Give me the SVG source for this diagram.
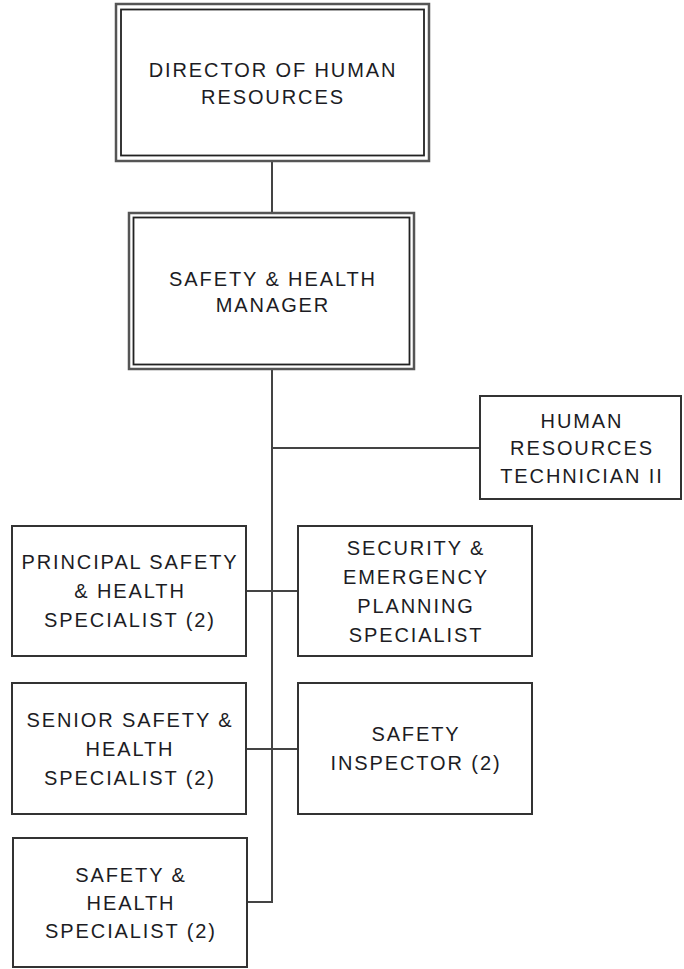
<svg xmlns="http://www.w3.org/2000/svg" width="684" height="969" viewBox="0 0 684 969">
<style>
.box{fill:#fff;stroke:#333;stroke-width:2}
.outer{fill:#fff;stroke:#555;stroke-width:2.5}
.inner{fill:none;stroke:#222;stroke-width:1.8}
.conn{fill:none;stroke:#444;stroke-width:2}
text{font-family:"Liberation Sans",Arial,sans-serif;font-size:20px;letter-spacing:1.9px;fill:#1c1c24;text-anchor:middle}
</style>
<rect width="684" height="969" fill="#fff"/>
<g id="connectors">
<line class="conn" x1="272" y1="161" x2="272" y2="213"/>
<polyline class="conn" points="272,369 272,902 247,902"/>
<line class="conn" x1="272" y1="448" x2="480" y2="448"/>
<line class="conn" x1="246" y1="591" x2="298" y2="591"/>
<line class="conn" x1="246" y1="749" x2="298" y2="749"/>
</g>
<g id="director">
<rect class="outer" x="116" y="4" width="313" height="157"/>
<rect class="inner" x="121" y="9.5" width="303" height="146"/>
<text x="273" y="77">DIRECTOR OF HUMAN</text>
<text x="273" y="104">RESOURCES</text>
</g>
<g id="manager">
<rect class="outer" x="129" y="213" width="285" height="156"/>
<rect class="inner" x="133.5" y="217.5" width="276" height="147"/>
<text x="273" y="286">SAFETY &amp; HEALTH</text>
<text x="273" y="312">MANAGER</text>
</g>
<g id="hr-technician">
<rect class="box" x="480" y="396" width="201" height="103"/>
<text x="582" y="428">HUMAN</text>
<text x="582" y="455">RESOURCES</text>
<text x="582" y="483">TECHNICIAN II</text>
</g>
<g id="principal">
<rect class="box" x="12" y="526" width="234" height="130"/>
<text x="130" y="569">PRINCIPAL SAFETY</text>
<text x="130" y="598">&amp; HEALTH</text>
<text x="130" y="627">SPECIALIST (2)</text>
</g>
<g id="security">
<rect class="box" x="298" y="526" width="234" height="130"/>
<text x="416" y="555">SECURITY &amp;</text>
<text x="416" y="584">EMERGENCY</text>
<text x="416" y="613">PLANNING</text>
<text x="416" y="642">SPECIALIST</text>
</g>
<g id="senior">
<rect class="box" x="12" y="683" width="234" height="131"/>
<text x="130" y="727">SENIOR SAFETY &amp;</text>
<text x="130" y="756">HEALTH</text>
<text x="130" y="785">SPECIALIST (2)</text>
</g>
<g id="inspector">
<rect class="box" x="298" y="683" width="234" height="131"/>
<text x="416" y="741">SAFETY</text>
<text x="416" y="770">INSPECTOR (2)</text>
</g>
<g id="specialist">
<rect class="box" x="13" y="838" width="234" height="129"/>
<text x="131" y="882">SAFETY &amp;</text>
<text x="131" y="910">HEALTH</text>
<text x="131" y="938">SPECIALIST (2)</text>
</g>
</svg>
